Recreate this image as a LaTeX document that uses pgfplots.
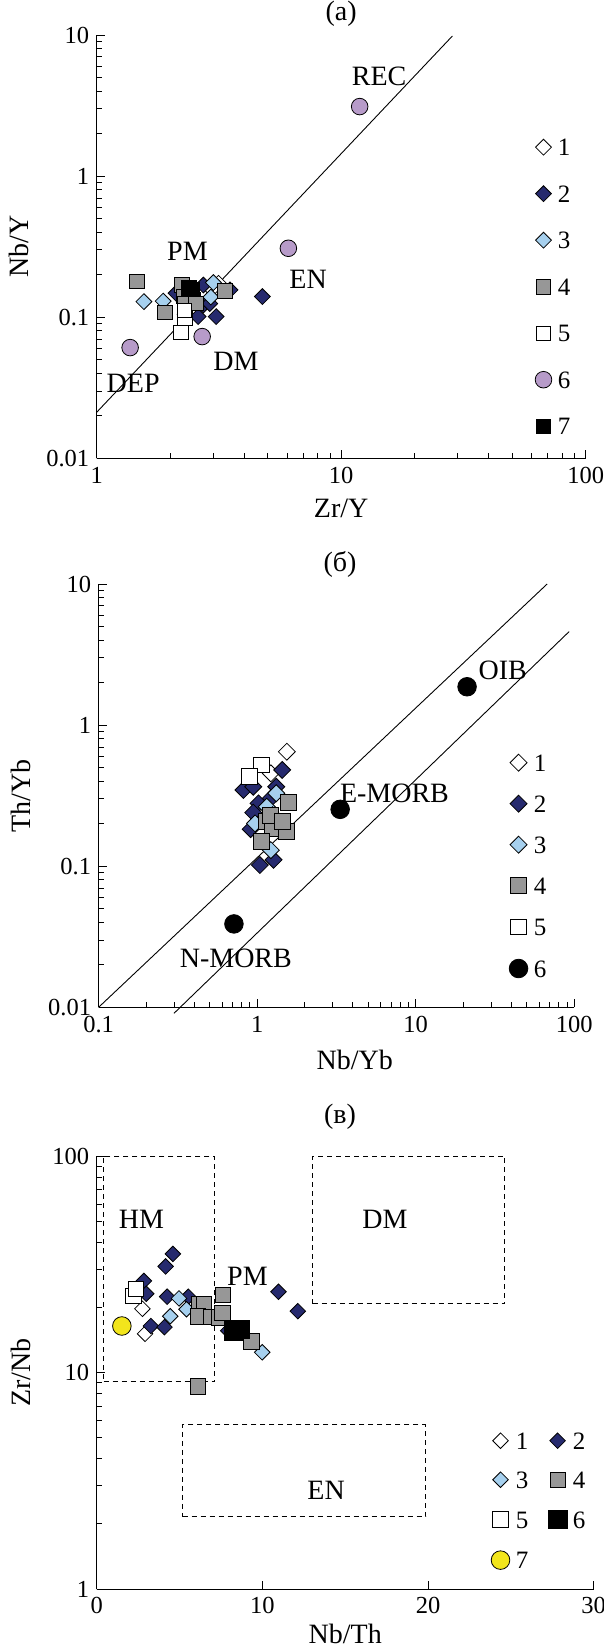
\documentclass[border=0pt]{standalone}
\usepackage{fontspec}
\setmainfont{Liberation Serif}
\usepackage{pgfplots}
\pgfplotsset{compat=1.18}

\definecolor{dk}{HTML}{262A6E}
\definecolor{lb}{HTML}{A6D0EE}
\definecolor{gr}{HTML}{979797}
\definecolor{pu}{HTML}{B79BC9}
\definecolor{ye}{HTML}{F2E51C}

\newcommand{\tickfont}{\fontsize{24.5}{24.5}\selectfont}
\newcommand{\labfont}{\fontsize{28}{28}\selectfont}

\pgfplotsset{
  panel/.style={scale only axis, axis lines=left,
    axis line style={-, line width=0.9pt},
    tick style={black, line width=0.8pt},
    major tick length=8pt, minor tick length=5pt, tick align=inside,
    tick label style={font=\tickfont},
    xticklabel style={yshift=-5pt},
    yticklabel style={xshift=-4pt},
    label style={font=\labfont},
    title style={font=\labfont, anchor=center},
    /pgf/number format/assume math mode=true,
    log ticks with fixed point,
    clip=false,
    legend cell align=left,
    legend image code/.code={\draw[##1] plot coordinates {(0pt,0pt)};},
    legend style={draw=none, fill=none, inner sep=0pt, font=\fontsize{25}{25}\selectfont,
      nodes={inner sep=0pt, text height=17pt, text depth=0pt}, column sep=6pt},
  },
  pdia/.style={only marks, mark=square*, mark size=#1,
    mark options={rotate=45, draw=black, line width=0.8pt}},
  psq/.style={only marks, mark=square*, mark size=#1,
    mark options={draw=black, line width=0.8pt}},
  pci/.style={only marks, mark=*, mark size=#1,
    mark options={draw=black, line width=0.8pt}},
}

\begin{document}
\begin{tikzpicture}
\path[use as bounding box] (0pt,0pt) rectangle (604pt,-1652pt);

% ---------------- (a) ----------------
\begin{axis}[panel, at={(96.7pt,-458.3pt)}, anchor=south west,
  width=489pt, height=423.3pt,
  xmode=log, ymode=log, xmin=1, xmax=100, ymin=0.01, ymax=10,
  title={(a)}, title style={at={(axis description cs:0.5,1.035)}},
  xlabel={Zr/Y}, ylabel={Nb/Y},
  xlabel style={at={(axis description cs:0.5,-0.118)}, anchor=center},
  ylabel style={at={(axis description cs:-0.159,0.5)}, anchor=center},
  legend style={at={(axis description cs:0.8963,0.7555)}, anchor=north west, row sep=29.5pt}]
\addplot[black, line width=0.9pt, forget plot] coordinates {(1,0.0212) (28.5,9.84)};
\addplot[pdia=5.6pt, fill=white] coordinates {(3.15,0.174) (2.95,0.158) (2.30,0.105)};
\addlegendentry{1}
\addplot[pdia=5.6pt, fill=dk] coordinates {(2.60,0.101) (3.08,0.101) (4.76,0.14) (3.51,0.156) (2.73,0.169) (2.73,0.122) (2.11,0.148) (2.9,0.125)};
\addlegendentry{2}
\addplot[pdia=5.6pt, fill=lb] coordinates {(1.56,0.129) (1.87,0.13) (3.0,0.176) (2.93,0.139)};
\addlegendentry{3}
\addplot[psq=7.3pt, fill=gr] coordinates {(1.458,0.179) (1.90,0.108) (2.23,0.169) (2.26,0.14) (2.48,0.133) (3.35,0.154) (2.3,0.125) (2.55,0.125)};
\addlegendentry{4}
\addplot[psq=7.3pt, fill=white] coordinates {(2.30,0.098) (2.21,0.078) (2.28,0.112)};
\addlegendentry{5}
\addplot[pci=8.3pt, fill=pu] coordinates {(1.37,0.0609) (2.70,0.0729) (6.08,0.308) (11.9,3.11)};
\addlegendentry{6}
\addplot[psq=7.3pt, fill=black] coordinates {(2.38,0.162) (2.46,0.157)};
\addlegendentry{7}
\node[font=\labfont] at (axis cs:14.3,5.13) {REC};
\node[font=\labfont] at (axis cs:2.35,0.292) {PM};
\node[font=\labfont] at (axis cs:7.32,0.186) {EN};
\node[font=\labfont] at (axis cs:3.71,0.0484) {DM};
\node[font=\labfont] at (axis cs:1.41,0.034) {DEP};
\end{axis}

% ---------------- (b) ----------------
\begin{axis}[panel, at={(98.6pt,-1007.3pt)}, anchor=south west,
  width=475.6pt, height=423.3pt,
  xmode=log, ymode=log, xmin=0.1, xmax=100, ymin=0.01, ymax=10,
  title={(б)}, title style={at={(axis description cs:0.5076,1.033)}},
  xlabel={Nb/Yb}, ylabel={Th/Yb},
  xlabel style={at={(axis description cs:0.5385,-0.125)}, anchor=center},
  ylabel style={at={(axis description cs:-0.163,0.5)}, anchor=center},
  legend style={at={(axis description cs:0.863,0.5984)}, anchor=north west, row sep=24pt}]
\addplot[black, line width=0.9pt, forget plot] coordinates {(0.1,0.01) (67.5,10)};
\addplot[black, line width=0.9pt, forget plot] coordinates {(0.299,0.00907) (92.9,4.60)};
\addplot[pdia=6pt, fill=white] coordinates {(1.54,0.648) (1.22,0.455)};
\addlegendentry{1}
\addplot[pdia=6pt, fill=dk] coordinates {(0.82,0.347) (0.945,0.366) (1.44,0.481) (1.32,0.366) (1.22,0.303) (1.02,0.279) (0.945,0.24) (0.91,0.183) (1.04,0.102) (1.27,0.111)};
\addlegendentry{2}
\addplot[pdia=6pt, fill=lb] coordinates {(1.32,0.329) (1.15,0.264) (0.97,0.201) (1.22,0.130) (1.25,0.23)};
\addlegendentry{3}
\addplot[psq=8pt, fill=gr] coordinates {(1.57,0.282) (1.14,0.207) (1.25,0.186) (1.52,0.176) (1.06,0.149) (1.22,0.231) (1.44,0.207)};
\addlegendentry{4}
\addplot[psq=7.8pt, fill=white] coordinates {(1.06,0.522) (0.893,0.431)};
\addlegendentry{5}
\addplot[pci=9.3pt, fill=black] coordinates {(0.714,0.039) (3.34,0.253) (21.1,1.87)};
\addlegendentry{6}
\node[font=\labfont] at (axis cs:35.4,2.46) {OIB};
\node[font=\labfont] at (axis cs:7.35,0.329) {E-MORB};
\node[font=\labfont] at (axis cs:0.734,0.0222) {N-MORB};
\end{axis}

% ---------------- (c) ----------------
\begin{axis}[panel, at={(96.7pt,-1589pt)}, anchor=south west,
  width=497pt, height=433pt,
  ymode=log, xmin=0, xmax=30, ymin=1, ymax=100, xtick={0,10,20,30},
  title={(в)}, title style={at={(axis description cs:0.4895,1.076)}},
  xlabel={Nb/Th}, ylabel={Zr/Nb},
  xlabel style={at={(axis description cs:0.5,-0.104)}, anchor=center},
  ylabel style={at={(axis description cs:-0.152,0.5)}, anchor=center},
  legend columns=2,
  legend style={at={(axis description cs:0.7934,0.3626)}, anchor=north west, row sep=22pt,
    /tikz/column 2/.style={column sep=20pt}}]
\addplot[black, line width=0.8pt, dash pattern=on 5pt off 4pt, forget plot] coordinates {(0.42,9.07) (7.12,9.07) (7.12,100) (0.42,100) (0.42,9.07)};
\addplot[black, line width=0.8pt, dash pattern=on 5pt off 4pt, forget plot] coordinates {(13.03,20.8) (24.63,20.8) (24.63,100) (13.03,100) (13.03,20.8)};
\addplot[black, line width=0.8pt, dash pattern=on 5pt off 4pt, forget plot] coordinates {(5.18,2.16) (19.85,2.16) (19.85,5.74) (5.18,5.74) (5.18,2.16)};
\addplot[pdia=5.5pt, fill=white] coordinates {(2.76,19.7) (2.92,15.1)};
\addlegendentry{1}
\addplot[pdia=5.5pt, fill=dk] coordinates {(4.60,35.3) (4.16,30.9) (2.85,26.5) (2.99,23.1) (4.25,22.4) (5.53,22.4) (3.27,16.4) (4.09,16.2) (10.97,23.6) (12.14,19.2) (7.94,15.6)};
\addlegendentry{2}
\addplot[pdia=5.5pt, fill=lb] coordinates {(4.97,22.0) (5.42,19.6) (4.44,18.2) (9.99,12.4)};
\addlegendentry{3}
\addplot[psq=7.7pt, fill=gr] coordinates {(7.63,22.8) (6.19,20.8) (6.47,20.6) (6.12,18.2) (6.89,18.1) (7.4,18.0) (7.58,18.8) (9.34,13.9) (6.12,8.63)};
\addlegendentry{4}
\addplot[psq=7.7pt, fill=white] coordinates {(2.22,22.6) (2.38,24.3)};
\addlegendentry{5}
\addplot[psq=9.3pt, fill=black] coordinates {(8.29,15.6) (8.64,15.8)};
\addlegendentry{6}
\addplot[pci=9.3pt, fill=ye] coordinates {(1.52,16.4)};
\addlegendentry{7}
\node[font=\labfont] at (axis cs:2.7,51) {HM};
\node[font=\labfont] at (axis cs:17.4,51) {DM};
\node[font=\labfont] at (axis cs:9.1,27.9) {PM};
\node[font=\labfont] at (axis cs:13.85,2.85) {EN};
\end{axis}
\end{tikzpicture}
\end{document}
